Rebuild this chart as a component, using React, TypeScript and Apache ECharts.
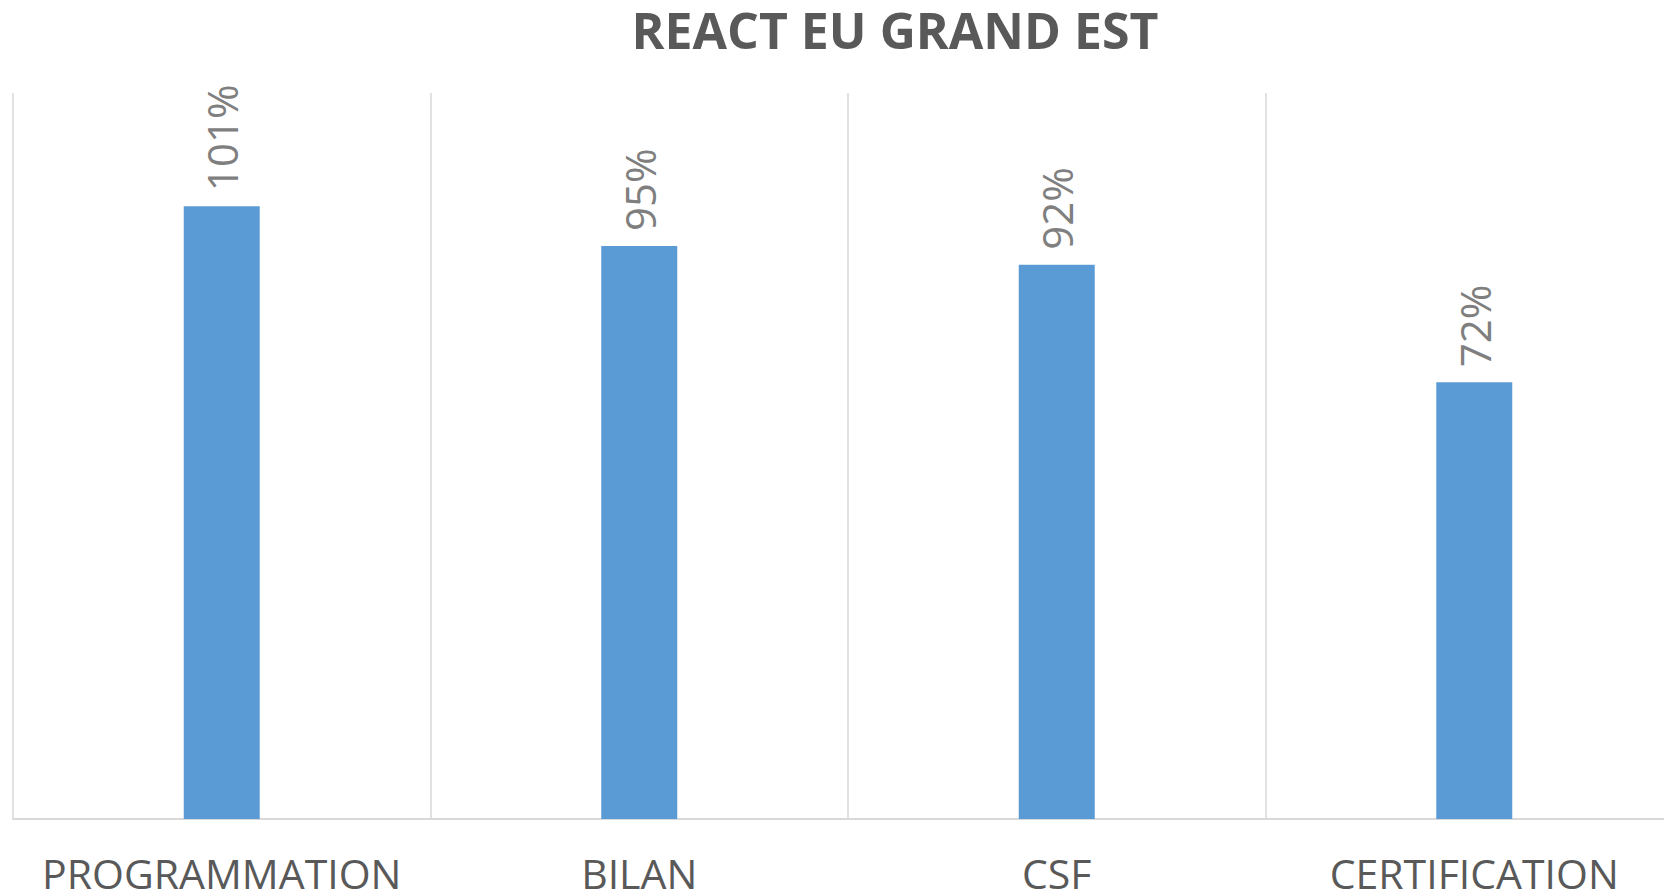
import React, { useEffect, useRef } from "react";
import * as echarts from "echarts";

const TITLE = "REACT EU GRAND EST";
const categories = ["PROGRAMMATION", "BILAN", "CSF", "CERTIFICATION"];
const values = [1.013, 0.947, 0.916, 0.722];

export default function App() {
  const ref = useRef<HTMLDivElement>(null);
  useEffect(() => {
    if (!ref.current) return;
    const chart = echarts.init(ref.current, undefined, { renderer: "svg" });
    chart.setOption({
      animation: false,
      backgroundColor: "#ffffff",
      graphic: [
        {
          type: "text",
          x: 895,
          y: 30,
          style: {
            text: TITLE,
            textAlign: "center",
            textVerticalAlign: "middle",
            fontFamily: "'Open Sans', sans-serif",
            fontWeight: "bold",
            fontSize: 50,
            fill: "#595959",
          },
        },
      ],
      grid: { left: 13, top: 93, bottom: 76, width: 1670 },
      xAxis: {
        type: "category",
        data: categories,
        axisLine: { show: true, lineStyle: { color: "#d9d9d9", width: 2 } },
        axisTick: { show: false },
        splitLine: { show: true, lineStyle: { color: "#d9d9d9", width: 1.5 } },
        axisLabel: {
          interval: 0,
          margin: 33,
          fontFamily: "'Open Sans', sans-serif",
          fontSize: 41,
          lineHeight: 41,
          color: "#595959",
        },
      },
      yAxis: {
        type: "value",
        min: 0,
        max: 1.2,
        show: false,
        splitLine: { show: false },
      },
      series: [
        {
          type: "bar",
          data: values,
          barWidth: 76,
          itemStyle: { color: "#5b9bd5" },
          label: {
            show: true,
            position: "top",
            rotate: 90,
            align: "left",
            verticalAlign: "middle",
            distance: 15,
            fontFamily: "'Open Sans', sans-serif",
            fontSize: 42,
            color: "#7f7f7f",
            formatter: (p: any) => Math.round(p.value * 100) + "%",
          },
        },
      ],
    });
    return () => chart.dispose();
  }, []);
  return (
    <div
      ref={ref}
      style={{ position: "fixed", left: 0, top: 0, width: "1700px", height: "895px" }}
    />
  );
}
